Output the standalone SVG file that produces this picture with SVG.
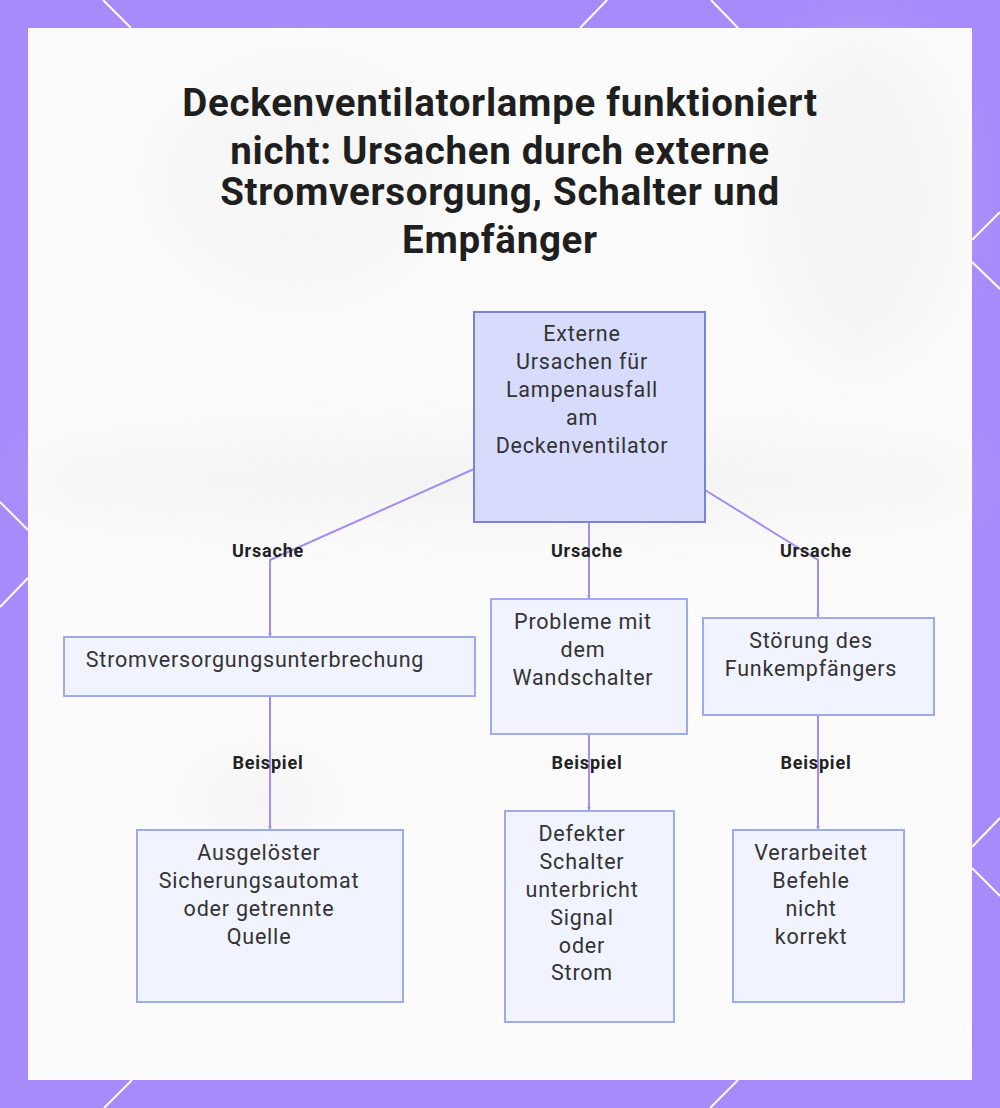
<svg xmlns="http://www.w3.org/2000/svg" width="1000" height="1108" viewBox="0 0 1000 1108">
  <defs>
    <style>
      .title { font-family: Roboto, "Liberation Sans", sans-serif; font-weight: 700; font-size: 38.5px; letter-spacing: 0.7px; fill: #1f1f1f; text-anchor: middle; }
      .nt { font-family: Roboto, "Liberation Sans", sans-serif; font-size: 21.5px; letter-spacing: 0.8px; fill: #333333; text-anchor: middle; }
      .lbl { font-family: Roboto, "Liberation Sans", sans-serif; font-weight: 700; font-size: 18px; letter-spacing: 0.8px; fill: #222222; text-anchor: middle; }
      .root { fill: #d8dcfc; stroke: #7984d8; stroke-width: 2; }
      .child { fill: #f1f4fe; stroke: #9faaea; stroke-width: 2; }
      .edge { fill: none; stroke: #a48cf0; stroke-width: 2; marker-end: url(#arr); }
      .deco { stroke: #ffffff; stroke-width: 2; }
    </style>
    <marker id="arr" viewBox="0 0 6 6" refX="5" refY="3" markerWidth="4" markerHeight="4" orient="auto" markerUnits="userSpaceOnUse">
      <path d="M0,0 L6,3 L0,6 z" fill="#a48cf0"/>
    </marker>
    <filter id="blur" x="-50%" y="-50%" width="200%" height="200%">
      <feGaussianBlur stdDeviation="25"/>
    </filter>
  </defs>

  <!-- frame -->
  <rect x="0" y="0" width="1000" height="1108" fill="#a78bfa"/>
  <g class="deco">
    <line x1="103" y1="0" x2="131" y2="28"/>
    <line x1="607" y1="0" x2="580" y2="28"/>
    <line x1="711" y1="0" x2="738" y2="28"/>
    <line x1="0" y1="502" x2="28" y2="530"/>
    <line x1="28" y1="578" x2="0" y2="607"/>
    <line x1="1000" y1="212" x2="972" y2="240"/>
    <line x1="972" y1="262" x2="1000" y2="289"/>
    <line x1="1000" y1="818" x2="972" y2="847"/>
    <line x1="972" y1="868" x2="1000" y2="896"/>
    <line x1="132" y1="1080" x2="104" y2="1108"/>
    <line x1="738" y1="1080" x2="710" y2="1108"/>
  </g>
  <rect x="28" y="28" width="944" height="1052" fill="#fbfbfb"/>

  <!-- faint background shapes -->
  <g opacity="0.35" filter="url(#blur)">
    <ellipse cx="500" cy="480" rx="470" ry="40" fill="#e6e6e6"/>
    <ellipse cx="300" cy="180" rx="140" ry="110" fill="#eeeeee"/>
    <ellipse cx="860" cy="200" rx="90" ry="160" fill="#e8e8e8"/>
    <ellipse cx="260" cy="800" rx="60" ry="30" fill="#e4e4e4"/>
  </g>
  <circle cx="925" cy="1036" r="43" fill="none" stroke="#ffffff" stroke-width="1" stroke-dasharray="2 2" opacity="0.8"/>

  <!-- title -->
  <g id="title">
    <text class="title" x="500" y="116">Deckenventilatorlampe funktioniert</text>
    <text class="title" x="500" y="164">nicht: Ursachen durch externe</text>
    <text class="title" x="500" y="205">Stromversorgung, Schalter und</text>
    <text class="title" x="500" y="253">Empfänger</text>
  </g>

  <!-- connectors -->
  <g id="connectors">
    <polyline class="edge" points="474,469 270,560 270,636"/>
    <polyline class="edge" points="589,522 589,598"/>
    <polyline class="edge" points="705,490 818,560 818,617"/>
    <polyline class="edge" points="270,696 270,829"/>
    <polyline class="edge" points="589,734 589,810"/>
    <polyline class="edge" points="818,715 818,829"/>
    <text class="lbl" x="268" y="557">Ursache</text>
    <text class="lbl" x="587" y="557">Ursache</text>
    <text class="lbl" x="816" y="557">Ursache</text>
    <text class="lbl" x="268" y="769">Beispiel</text>
    <text class="lbl" x="587" y="769">Beispiel</text>
    <text class="lbl" x="816" y="769">Beispiel</text>
  </g>

  <!-- nodes -->
  <g id="root">
    <rect class="root" x="474" y="312" width="231" height="210"/>
    <text class="nt" x="582" y="341">Externe</text>
    <text class="nt" x="582" y="369">Ursachen für</text>
    <text class="nt" x="582" y="397">Lampenausfall</text>
    <text class="nt" x="582" y="425">am</text>
    <text class="nt" x="582" y="453">Deckenventilator</text>
  </g>
  <g id="strom">
    <rect class="child" x="64" y="637" width="411" height="59"/>
    <text class="nt" x="255" y="667">Stromversorgungsunterbrechung</text>
  </g>
  <g id="wand">
    <rect class="child" x="491" y="599" width="196" height="135"/>
    <text class="nt" x="583" y="629">Probleme mit</text>
    <text class="nt" x="583" y="657">dem</text>
    <text class="nt" x="583" y="685">Wandschalter</text>
  </g>
  <g id="funk">
    <rect class="child" x="703" y="618" width="231" height="97"/>
    <text class="nt" x="811" y="648">Störung des</text>
    <text class="nt" x="811" y="676">Funkempfängers</text>
  </g>
  <g id="sicherung">
    <rect class="child" x="137" y="830" width="266" height="172"/>
    <text class="nt" x="259" y="860">Ausgelöster</text>
    <text class="nt" x="259" y="888">Sicherungsautomat</text>
    <text class="nt" x="259" y="916">oder getrennte</text>
    <text class="nt" x="259" y="944">Quelle</text>
  </g>
  <g id="defekt">
    <rect class="child" x="505" y="811" width="169" height="211"/>
    <text class="nt" x="582" y="841">Defekter</text>
    <text class="nt" x="582" y="869">Schalter</text>
    <text class="nt" x="582" y="897">unterbricht</text>
    <text class="nt" x="582" y="925">Signal</text>
    <text class="nt" x="582" y="953">oder</text>
    <text class="nt" x="582" y="980">Strom</text>
  </g>
  <g id="verarbeitet">
    <rect class="child" x="733" y="830" width="171" height="172"/>
    <text class="nt" x="811" y="860">Verarbeitet</text>
    <text class="nt" x="811" y="888">Befehle</text>
    <text class="nt" x="811" y="916">nicht</text>
    <text class="nt" x="811" y="944">korrekt</text>
  </g>
</svg>
